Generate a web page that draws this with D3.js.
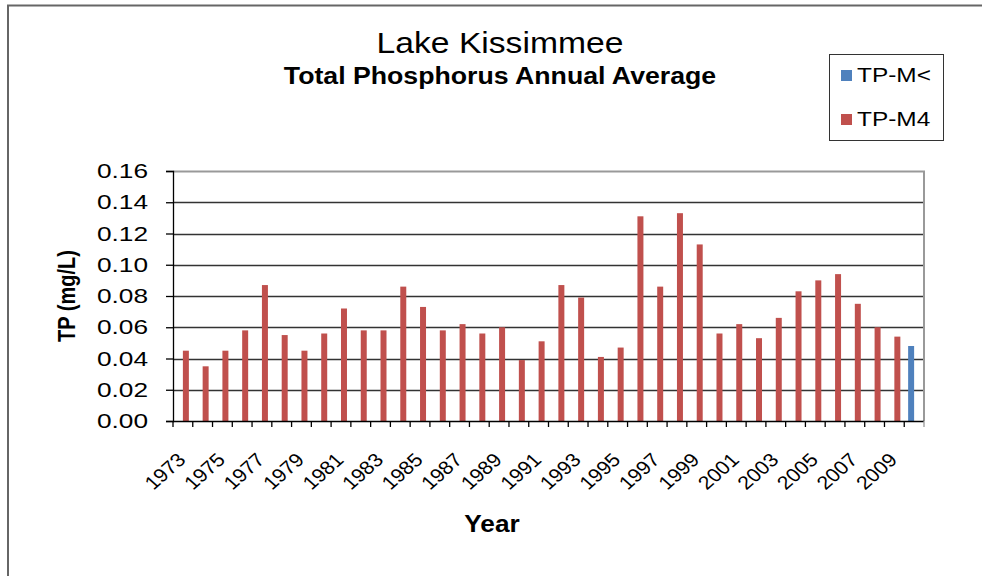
<!DOCTYPE html>
<html>
<head>
<meta charset="utf-8">
<script src="https://cdn.jsdelivr.net/npm/d3@7"></script>
<style>
  body { margin: 0; background: #fff; }
  svg { font-family: "Liberation Sans", Arial, sans-serif; }
</style>
</head>
<body>
<svg id="barChart" width="982" height="576"></svg>
<script>
// data
const years = d3.range(1973, 2011).map(String);
const seriesNames = ["TP-M<", "TP-M4"];
const tpM4 = [0.045, 0.035, 0.045, 0.058, 0.087, 0.055, 0.045, 0.056, 0.072, 0.058,
  0.058, 0.086, 0.073, 0.058, 0.062, 0.056, 0.060, 0.039, 0.051, 0.087,
  0.079, 0.041, 0.047, 0.131, 0.086, 0.133, 0.113, 0.056, 0.062, 0.053,
  0.066, 0.083, 0.090, 0.094, 0.075, 0.060, 0.054, null];
const tpMlt = [null, null, null, null, null, null, null, null, null, null,
  null, null, null, null, null, null, null, null, null, null,
  null, null, null, null, null, null, null, null, null, null,
  null, null, null, null, null, null, null, 0.048];
const yTicks = [0, 0.02, 0.04, 0.06, 0.08, 0.10, 0.12, 0.14, 0.16];
const colors = { "TP-M<": "#4F81BD", "TP-M4": "#C0504D" };

const svg = d3.select("#barChart");
const margin = { top: 171, right: 58, bottom: 155, left: 173 };
const width = +svg.attr("width");
const height = +svg.attr("height");
const innerWidth = width - margin.left - margin.right;
const innerHeight = height - margin.top - margin.bottom;

// the source picture is a bit wide, so its glyphs are stretched sideways
const stretch = (sel, k) => sel.each(function () {
  const w = this.getComputedTextLength();
  d3.select(this).attr("textLength", w * k).attr("lengthAdjust", "spacingAndGlyphs");
});

// outer frame (only left and top visible)
svg.append("path")
  .attr("d", "M8,576 L8,5.5 L982,5.5")
  .attr("fill", "none")
  .attr("stroke", "#666")
  .attr("stroke-width", 2);

const xScale = d3.scaleBand().domain(years).range([0, innerWidth]).padding(0);
const x1 = d3.scaleBand().domain(seriesNames).range([0, xScale.bandwidth()])
  .paddingInner(0).paddingOuter(0.65);
const yScale = d3.scaleLinear().domain([0, 0.16]).range([innerHeight, 0]);

const g = svg.append("g").attr("transform", `translate(${margin.left}, ${margin.top})`);

// gridlines
g.append("g")
  .selectAll("line")
  .data(yTicks.filter(d => d > 0 && d < 0.16))
  .enter()
  .append("line")
  .attr("x1", 0).attr("x2", innerWidth)
  .attr("y1", d => Math.round(yScale(d)) + 0.5)
  .attr("y2", d => Math.round(yScale(d)) + 0.5)
  .attr("stroke", "#333")
  .attr("stroke-width", 1.3);

// plot border top/right
g.append("path")
  .attr("d", `M0,0.5 L${innerWidth},0.5 L${innerWidth},${innerHeight}`)
  .attr("fill", "none")
  .attr("stroke", "#999")
  .attr("stroke-width", 2);

// bars
const rows = years.map((y, i) => ({ year: y, "TP-M<": tpMlt[i], "TP-M4": tpM4[i] }));
g.append("g")
  .selectAll("g")
  .data(rows)
  .enter()
  .append("g")
  .attr("transform", d => `translate(${xScale(d.year)},0)`)
  .selectAll("rect")
  .data(d => seriesNames.filter(s => d[s] != null).map(s => ({ key: s, value: d[s] })))
  .enter()
  .append("rect")
  .attr("x", d => x1(d.key))
  .attr("width", x1.bandwidth())
  .attr("y", d => yScale(d.value))
  .attr("height", d => innerHeight - yScale(d.value))
  .attr("fill", d => colors[d.key]);

// y axis
const yAxis = d3.axisLeft(yScale).tickValues(yTicks).tickFormat(d3.format(".2f")).tickSize(7).tickPadding(18);
const yAxisG = g.append("g").call(yAxis);
yAxisG.selectAll("line, path").attr("stroke", "#000").attr("stroke-width", 1.3);
yAxisG.selectAll("text")
  .style("font-size", "21px")
  .attr("fill", "#000")
  .attr("font-family", "Liberation Sans, Arial, sans-serif")
  .call(stretch, 1.25);

// x axis: ticks at category boundaries
const xAxisG = g.append("g").attr("transform", `translate(0, ${innerHeight})`);
xAxisG.append("line")
  .attr("x1", 0).attr("x2", innerWidth)
  .attr("y1", 0.5).attr("y2", 0.5)
  .attr("stroke", "#000").attr("stroke-width", 1.5);
xAxisG.selectAll(".tick")
  .data(years.concat(["end"]))
  .enter()
  .append("line")
  .attr("x1", (d, i) => i * xScale.step())
  .attr("x2", (d, i) => i * xScale.step())
  .attr("y1", 0).attr("y2", 6)
  .attr("stroke", (d, i) => i === years.length ? "#999" : "#000")
  .attr("stroke-width", 1.3);

xAxisG.selectAll("text")
  .data(years.filter((d, i) => i % 2 === 0))
  .enter()
  .append("text")
  .attr("transform", d => `translate(${xScale(d) + xScale.bandwidth() / 2 + 4}, 40) scale(1.12,1) rotate(-45)`)
  .attr("text-anchor", "end")
  .style("font-size", "19px")
  .text(d => d);

// axis titles
svg.append("text")
  .attr("transform", `translate(75, ${margin.top + innerHeight / 2}) scale(1.2,1) rotate(-90)`)
  .attr("text-anchor", "middle")
  .style("font-size", "20px")
  .style("font-weight", "bold")
  .text("TP (mg/L)");

svg.append("text")
  .attr("x", 492).attr("y", 532)
  .attr("text-anchor", "middle")
  .style("font-size", "23px")
  .style("font-weight", "bold")
  .text("Year")
  .call(stretch, 1.14);

// titles
svg.append("text")
  .attr("x", 500).attr("y", 53)
  .attr("text-anchor", "middle")
  .style("font-size", "29px")
  .text("Lake Kissimmee")
  .call(stretch, 1.16);

svg.append("text")
  .attr("x", 500).attr("y", 84)
  .attr("text-anchor", "middle")
  .style("font-size", "23px")
  .style("font-weight", "bold")
  .text("Total Phosphorus Annual Average")
  .call(stretch, 1.16);

// legend
const legend = svg.append("g").attr("transform", "translate(829, 54)");
legend.append("rect")
  .attr("x", 0.5).attr("y", 0.5)
  .attr("width", 114).attr("height", 86)
  .attr("fill", "#fff")
  .attr("stroke", "#333");
const items = legend.selectAll(".item")
  .data(seriesNames)
  .enter()
  .append("g")
  .attr("transform", (d, i) => `translate(12, ${16 + i * 44})`);
items.append("rect")
  .attr("width", 11).attr("height", 11)
  .attr("fill", d => colors[d]);
items.append("text")
  .attr("x", 16).attr("y", 12)
  .style("font-size", "20px")
  .text(d => d)
  .call(stretch, 1.22);
</script>
</body>
</html>
